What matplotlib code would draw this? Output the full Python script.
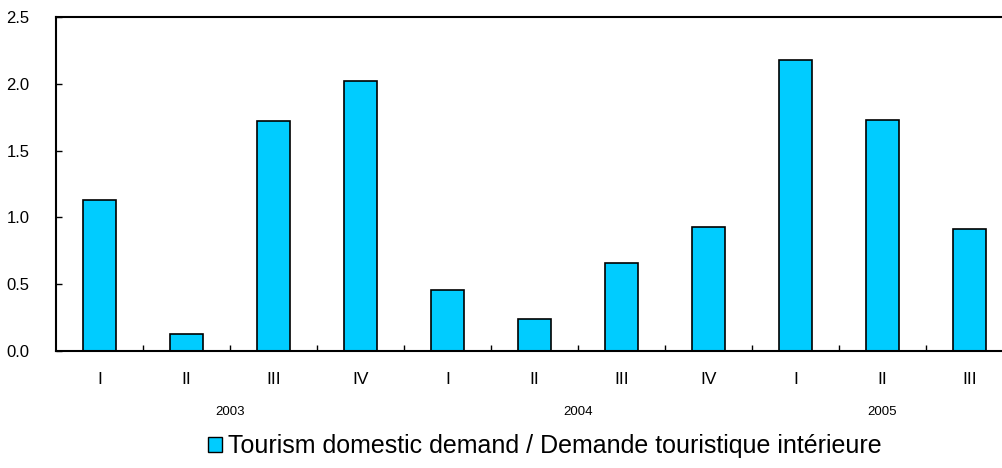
import numpy as np
import matplotlib.pyplot as plt
from matplotlib.patches import Patch

# Data
quarters = ["I", "II", "III", "IV", "I", "II", "III", "IV", "I", "II", "III"]
years = ["2003", "2004", "2005"]
year_centers = [1.5, 5.5, 9.0]  # middle of each year's group (category index)
values = [1.13, 0.13, 1.72, 2.02, 0.46, 0.24, 0.66, 0.93, 2.18, 1.73, 0.91]
series_name = "Tourism domestic demand / Demande touristique intérieure"

plt.rcParams['font.family'] = ['Liberation Sans', 'DejaVu Sans']
bar_color = "#00CCFF"

fig = plt.figure(figsize=(10.02, 4.68), dpi=100)
# plot area runs past the right edge of the image, as in the reference
ax = fig.add_axes([56 / 1002, 1 - 351 / 468, 957 / 1002, 334 / 468])

x = np.arange(len(values))
ax.bar(x, values, width=0.38, color=bar_color, edgecolor="black", linewidth=1.2)

ax.set_xlim(-0.5, len(values) - 0.5)
ax.set_ylim(0, 2.5)
ax.set_yticks(np.arange(0, 2.51, 0.5))
ax.set_yticklabels([f"{v:.1f}" for v in np.arange(0, 2.51, 0.5)], fontsize=12)
ax.tick_params(axis="y", direction="in", length=4, width=1, pad=19)

# quarter labels under the bars, ticks between categories
ax.set_xticks(x)
ax.set_xticklabels(quarters, fontsize=12.5)
ax.tick_params(axis="x", length=0, pad=15)
ax.set_xticks(np.arange(0.5, len(values) - 0.5), minor=True)
ax.tick_params(axis="x", which="minor", direction="in", length=4, width=1)

for s in ax.spines.values():
    s.set_linewidth(1.5)
ax.spines["right"].set_visible(False)

# year labels
for yr, c in zip(years, year_centers):
    ax.text(c, -0.455, yr, ha="center", va="center", fontsize=9.5,
            transform=ax.transData)

fig.legend(handles=[Patch(facecolor=bar_color, edgecolor="black", label=series_name)],
           loc="center", bbox_to_anchor=(545 / 1002, 1 - 446 / 468), frameon=False,
           fontsize=18, handlelength=0.55, handleheight=0.55, handletextpad=0.25)

fig.savefig("out.png", dpi=100)
